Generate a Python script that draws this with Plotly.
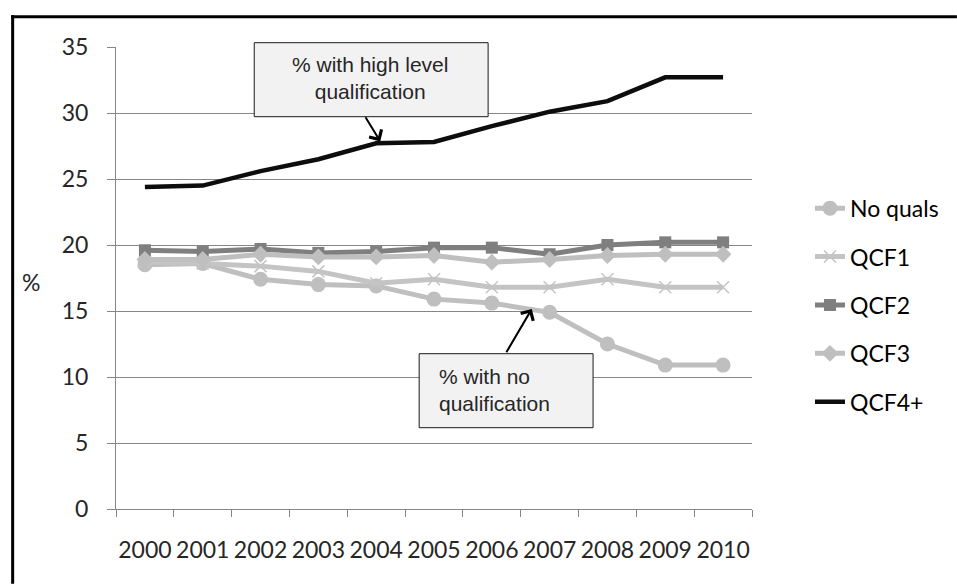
import plotly.graph_objects as go

# Share of the working-age population by highest qualification held (%)
years = ["2000", "2001", "2002", "2003", "2004", "2005",
         "2006", "2007", "2008", "2009", "2010"]
no_quals = [18.5, 18.6, 17.4, 17.0, 16.9, 15.9, 15.6, 14.9, 12.5, 10.9, 10.9]
qcf1 = [18.7, 18.6, 18.4, 18.0, 17.1, 17.4, 16.8, 16.8, 17.4, 16.8, 16.8]
qcf2 = [19.6, 19.5, 19.7, 19.4, 19.5, 19.8, 19.8, 19.3, 20.0, 20.2, 20.2]
qcf3 = [18.9, 18.9, 19.3, 19.1, 19.1, 19.2, 18.7, 18.9, 19.2, 19.3, 19.3]
qcf4 = [24.4, 24.5, 25.6, 26.5, 27.7, 27.8, 29.0, 30.1, 30.9, 32.7, 32.7]
y_ticks = [0, 5, 10, 15, 20, 25, 30, 35]

series = [
    ("No quals", no_quals, "#bfbfbf", dict(symbol="circle", size=15)),
    ("QCF1", qcf1, "#c4c4c4", dict(symbol="x-thin", size=12, line=dict(width=1.5, color="#c4c4c4"))),
    ("QCF2", qcf2, "#7f7f7f", dict(symbol="square", size=12)),
    ("QCF3", qcf3, "#bfbfbf", dict(symbol="diamond", size=13)),
    ("QCF4+", qcf4, "#0d0d0d", None),
]

W, H = 957, 584
L, R, T, B = 115.7, 205, 47.3, 74.7
PW, PH = W - L - R, H - T - B


def px(x):
    return (x - L) / PW


def py(y):
    return (H - B - y) / PH


fig = go.Figure()
for i, (name, vals, col, mk) in enumerate(series):
    fig.add_trace(go.Scatter(
        x=years, y=vals, name=name, legendgroup=f"g{i}",
        mode="lines+markers" if mk else "lines",
        line=dict(color=col, width=5 if mk else 4.5),
        marker=dict(color=col, **mk) if mk else None,
    ))

font_lbl = "Lato, 'Open Sans', sans-serif"
font_box = "'Liberation Sans', Arial, sans-serif"

shapes = [
    # outer frame (left and top edges)
    dict(type="line", xref="paper", yref="paper",
         x0=px(12.3), x1=px(12.3), y0=py(584), y1=py(15.5),
         line=dict(color="#000000", width=3)),
    dict(type="line", xref="paper", yref="paper",
         x0=px(10.8), x1=px(957), y0=py(17), y1=py(17),
         line=dict(color="#000000", width=3)),
    # callout boxes
    dict(type="rect", xref="paper", yref="paper", layer="above",
         x0=px(254), x1=px(488), y0=py(117), y1=py(43),
         line=dict(color="#1a1a1a", width=1), fillcolor="#f2f2f2"),
    dict(type="rect", xref="paper", yref="paper", layer="above",
         x0=px(419), x1=px(593), y0=py(428), y1=py(354),
         line=dict(color="#1a1a1a", width=1), fillcolor="#f2f2f2"),
]

annotations = [
    dict(text="% with high level<br>qualification", xref="paper", yref="paper",
         x=px(370), y=py(78), xanchor="center", yanchor="middle",
         showarrow=False, align="center",
         font=dict(family=font_box, size=21, color="#262626")),
    dict(text="% with no<br>qualification", xref="paper", yref="paper",
         x=px(437), y=py(390.5), xanchor="left", yanchor="middle",
         showarrow=False, align="left",
         font=dict(family=font_box, size=21, color="#262626")),
    # arrows pointing at the two highlighted series
    dict(text="", x=4.07, y=27.85, xref="x", yref="y", ax=-15, ay=-24.7,
         showarrow=True, arrowhead=4, arrowsize=1.4, arrowwidth=2,
         arrowcolor="#000000", standoff=0, startstandoff=0,
         font=dict(size=1), borderpad=0),
    dict(text="", x=6.691, y=15.15, xref="x", yref="y", ax=-25.7, ay=43.7,
         showarrow=True, arrowhead=4, arrowsize=1.4, arrowwidth=2,
         arrowcolor="#000000", standoff=0, startstandoff=0,
         font=dict(size=1), borderpad=0),
    # axis unit
    dict(text="%", xref="paper", yref="paper", x=px(31), y=py(282),
         xanchor="center", yanchor="middle",
         showarrow=False, font=dict(family=font_lbl, size=23, color="#262626")),
]

fig.update_layout(
    width=W, height=H,
    margin=dict(l=L, r=R, t=T, b=B, autoexpand=False),
    paper_bgcolor="#ffffff", plot_bgcolor="#ffffff",
    font=dict(family=font_lbl, size=23, color="#262626"),
    shapes=shapes, annotations=annotations,
    legend=dict(x=px(810), y=py(187), xanchor="left", yanchor="top",
                tracegroupgap=15.5, font=dict(family=font_lbl, size=23, color="#000000"),
                bgcolor="rgba(0,0,0,0)"),
    xaxis=dict(type="category", range=[-0.5, 10.5], showgrid=False,
               showline=True, linecolor="#868686", linewidth=1,
               ticks="outside", tickson="boundaries", ticklen=7, tickcolor="#868686",
               tickangle=0, ticklabelstandoff=20,
               tickfont=dict(size=23, color="#262626")),
    yaxis=dict(range=[0, 35], tickvals=y_ticks, showgrid=True, gridcolor="#868686",
               gridwidth=1, zeroline=False, showline=True, linecolor="#868686",
               ticks="outside", ticklen=8, tickcolor="#868686",
               ticklabelstandoff=14, tickfont=dict(size=23, color="#262626")),
)

fig.write_html("out.html", config={"displayModeBar": False})
